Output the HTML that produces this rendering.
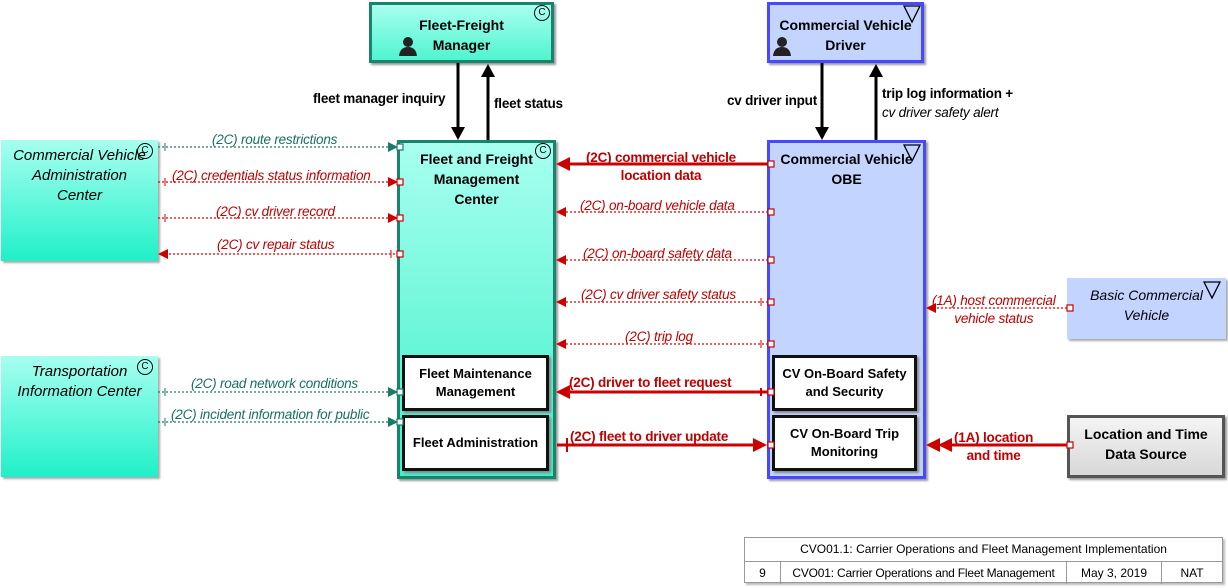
<!DOCTYPE html>
<html><head><meta charset="utf-8"><style>
body{margin:0;width:1228px;height:588px;background:#fff;position:relative;overflow:hidden;font-family:"Liberation Sans",sans-serif;}
.b{position:absolute;box-sizing:border-box;text-align:center;}
.t{position:absolute;font-size:13.5px;white-space:nowrap;letter-spacing:-0.2px}
.t.bold{font-size:13.5px}
.r{color:#c00000}.g{color:#1a6e62}.i{font-style:italic}
.bold{font-weight:bold}
.sub{position:absolute;box-sizing:border-box;background:#fff;border:3px solid #111;font-weight:bold;font-size:13px;display:flex;align-items:center;justify-content:center;text-align:center;line-height:18px;box-shadow:2px 2px 2px #888}
.cc{position:absolute;width:14px;height:14px;border:1.5px solid #000;border-radius:50%;font-size:10px;line-height:14px;text-align:center;box-sizing:content-box}
</style></head><body>

<div class="b bold" style="left:369px;top:2px;width:185px;height:61px;border:3px solid #17846b;background:linear-gradient(#a8fff0,#50f5d0);font-size:14px;line-height:20px;padding-top:10px;box-shadow:2px 2px 2px #999">Fleet-Freight<br>Manager</div>
<div class="cc" style="left:534px;top:5px">C</div>
<div class="b bold" style="left:767px;top:2px;width:157px;height:61px;border:3px solid #4848ff;background:#c2d4ff;font-size:14px;line-height:20px;padding-top:10px;box-shadow:2px 2px 2px #999">Commercial Vehicle<br>Driver</div>

<div class="b bold" style="left:397px;top:140px;width:159px;height:339px;border:3px solid #17846b;background:linear-gradient(#a8fff0,#40f0c8);font-size:14px;line-height:20px;padding-top:6px;box-shadow:2px 2px 2px #999">Fleet and Freight<br>Management<br>Center</div>
<div class="cc" style="left:535px;top:143px">C</div>
<div class="b bold" style="left:767px;top:140px;width:159px;height:339px;border:3px solid #4848ff;background:#c2d4ff;font-size:14px;line-height:20px;padding-top:6px;box-shadow:2px 2px 2px #999">Commercial Vehicle<br>OBE</div>

<div class="b i" style="left:1px;top:140px;width:157px;height:121px;background:linear-gradient(#a8fff0,#20f0c8);font-size:15px;line-height:20px;padding-top:6px;box-shadow:2px 2px 2px #aaa">Commercial Vehicle<br>Administration<br>Center</div>
<div class="cc" style="left:137px;top:143px">C</div>
<div class="b i" style="left:1px;top:356px;width:157px;height:121px;background:linear-gradient(#a8fff0,#20f0c8);font-size:15px;line-height:20px;padding-top:6px;box-shadow:2px 2px 2px #aaa">Transportation<br>Information Center</div>
<div class="cc" style="left:137px;top:359px">C</div>

<div class="b i" style="left:1067px;top:278px;width:159px;height:61px;background:#c2d4ff;font-size:14px;line-height:20px;padding-top:7px;box-shadow:2px 2px 2px #aaa">Basic Commercial<br>Vehicle</div>
<div class="b bold" style="left:1067px;top:415px;width:158px;height:63px;border:3px solid #555;background:linear-gradient(#f4f4f4,#d8d8d8);font-size:14px;line-height:20px;padding-top:6px;box-shadow:2px 2px 2px #999">Location and Time<br>Data Source</div>

<div class="sub" style="left:402px;top:355px;width:147px;height:56px">Fleet Maintenance<br>Management</div>
<div class="sub" style="left:402px;top:415px;width:147px;height:56px">Fleet Administration</div>
<div class="sub" style="left:772px;top:355px;width:145px;height:56px">CV On-Board Safety<br>and Security</div>
<div class="sub" style="left:772px;top:415px;width:145px;height:56px">CV On-Board Trip<br>Monitoring</div>

<svg width="1228" height="588" style="position:absolute;left:0;top:0" xmlns="http://www.w3.org/2000/svg">
<g fill="none" stroke="#000" stroke-width="1.3">
<path d="M904,6L920,6L912,22z"/>
<path d="M904,145L920,145L912,161z"/>
<path d="M1204,282L1220,282L1212,298z"/>
</g>
<g fill="#222"><circle cx="408" cy="42" r="5"/><path d="M399,56Q400,47 408,47Q416,47 417,56z"/>
<circle cx="782" cy="42" r="5"/><path d="M773,56Q774,47 782,47Q790,47 791,56z"/></g>
<g stroke="#000" stroke-width="3">
<line x1="458" y1="63" x2="458" y2="128"/><line x1="488" y1="76" x2="488" y2="140"/>
<line x1="822" y1="63" x2="822" y2="128"/><line x1="876" y1="76" x2="876" y2="140"/>
</g>
<g fill="#000"><path d="M451,127L465,127L458,140z"/><path d="M481,77L495,77L488,64z"/>
<path d="M815,127L829,127L822,140z"/><path d="M869,77L883,77L876,64z"/></g>
<g stroke="#1a7a6a" stroke-width="1.2" stroke-dasharray="2,2" fill="none">
<line x1="158" y1="147" x2="390" y2="147"/><line x1="158" y1="392" x2="390" y2="392"/><line x1="158" y1="422" x2="390" y2="422"/>
</g>
<g fill="#1a7a6a"><path d="M388,142L398,147L388,152z"/><path d="M388,387L398,392L388,397z"/><path d="M388,417L398,422L388,427z"/></g>
<g stroke="#1a7a6a" stroke-width="1"><line x1="165" y1="143" x2="165" y2="151"/><line x1="165" y1="388" x2="165" y2="396"/><line x1="165" y1="418" x2="165" y2="426"/></g>
<g stroke="#d00" stroke-width="1.2" stroke-dasharray="2,2" fill="none">
<line x1="158" y1="182" x2="390" y2="182"/><line x1="158" y1="218" x2="390" y2="218"/><line x1="165" y1="254" x2="397" y2="254"/>
<line x1="562" y1="212" x2="767" y2="212"/><line x1="562" y1="260" x2="767" y2="260"/><line x1="562" y1="302" x2="767" y2="302"/><line x1="562" y1="344" x2="767" y2="344"/>
<line x1="933" y1="308" x2="1067" y2="308"/>
</g>
<g fill="#c00">
<path d="M388,177L398,182L388,187z"/><path d="M388,213L398,218L388,223z"/><path d="M168,249L158,254L168,259z"/>
<path d="M566,207L556,212L566,217z"/><path d="M566,255L556,260L566,265z"/><path d="M566,297L556,302L566,307z"/><path d="M566,339L556,344L566,349z"/>
<path d="M936,303L926,308L936,313z"/>
</g>
<g stroke="#d00" stroke-width="1"><line x1="165" y1="178" x2="165" y2="186"/><line x1="165" y1="214" x2="165" y2="222"/><line x1="391" y1="250" x2="391" y2="258"/>
<line x1="761" y1="298" x2="761" y2="306"/><line x1="761" y1="340" x2="761" y2="348"/></g>
<g stroke="#c00" stroke-width="3">
<line x1="568" y1="164" x2="770" y2="164"/><line x1="568" y1="392" x2="770" y2="392"/><line x1="557" y1="445" x2="756" y2="445"/>
<line x1="950" y1="445" x2="1067" y2="445"/>
</g>
<g fill="#c00">
<path d="M570,157L556,164L570,171z"/><path d="M570,385L556,392L570,399z"/><path d="M753,438L767,445L753,452z"/>
<path d="M940,438L926,445L940,452z"/><path d="M952,438L938,445L952,452z"/>
</g>
<g stroke="#c00" stroke-width="2"><line x1="567" y1="438" x2="567" y2="452"/><line x1="761" y1="388" x2="761" y2="396"/></g>
<g fill="#fff" stroke-width="1.2">
<rect x="397" y="144" width="6" height="6" stroke="#1a7a6a"/><rect x="397" y="389" width="6" height="6" stroke="#1a7a6a"/><rect x="397" y="419" width="6" height="6" stroke="#1a7a6a"/>
<g stroke="#c00"><rect x="397" y="179" width="6" height="6"/><rect x="397" y="215" width="6" height="6"/><rect x="397" y="251" width="6" height="6"/>
<rect x="768" y="161" width="6" height="6"/><rect x="768" y="209" width="6" height="6"/><rect x="768" y="257" width="6" height="6"/><rect x="768" y="299" width="6" height="6"/><rect x="768" y="341" width="6" height="6"/><rect x="768" y="389" width="6" height="6"/><rect x="768" y="442" width="6" height="6"/>
<rect x="1067" y="305" width="6" height="6"/><rect x="1067" y="442" width="6" height="6"/></g>
</g>
</svg>

<div class="t bold" style="left:313px;top:91px">fleet manager inquiry</div>
<div class="t bold" style="left:494px;top:96px">fleet status</div>
<div class="t bold" style="left:727px;top:93px">cv driver input</div>
<div class="t" style="left:882px;top:84px;line-height:19px"><b>trip log information +</b><br><i>cv driver safety alert</i></div>

<div class="t g i" style="left:212px;top:132px">(2C) route restrictions</div>
<div class="t r i" style="left:172px;top:168px">(2C) credentials status information</div>
<div class="t r i" style="left:216px;top:204px">(2C) cv driver record</div>
<div class="t r i" style="left:217px;top:237px">(2C) cv repair status</div>
<div class="t g i" style="left:191px;top:376px">(2C) road network conditions</div>
<div class="t g i" style="left:171px;top:407px">(2C) incident information for public</div>

<div class="t r bold" style="left:586px;top:149px;text-align:center;line-height:18px">(2C) commercial vehicle<br>location data</div>
<div class="t r i" style="left:580px;top:198px">(2C) on-board vehicle data</div>
<div class="t r i" style="left:583px;top:246px">(2C) on-board safety data</div>
<div class="t r i" style="left:581px;top:287px">(2C) cv driver safety status</div>
<div class="t r i" style="left:625px;top:329px">(2C) trip log</div>
<div class="t r bold" style="left:569px;top:375px">(2C) driver to fleet request</div>
<div class="t r bold" style="left:570px;top:429px">(2C) fleet to driver update</div>
<div class="t r i" style="left:932px;top:292px;text-align:center;line-height:18px">(1A) host commercial<br>vehicle status</div>
<div class="t r bold" style="left:954px;top:429px;text-align:center;line-height:18px">(1A) location<br>and time</div>

<div style="position:absolute;left:744px;top:537px;width:479px;height:46px;border:1px solid #999;box-sizing:border-box;font-size:12px;box-shadow:2px 2px 2px #bbb">
<div style="height:23px;line-height:23px;text-align:center;border-bottom:1px solid #999">CVO01.1: Carrier Operations and Fleet Management Implementation</div>
<div style="display:flex;height:22px;line-height:22px">
<div style="width:35px;text-align:center;border-right:1px solid #999">9</div>
<div style="width:285px;text-align:center;border-right:1px solid #999;white-space:nowrap;letter-spacing:-0.2px">CVO01: Carrier Operations and Fleet Management</div>
<div style="width:94px;text-align:center;border-right:1px solid #999">May 3, 2019</div>
<div style="flex:1;text-align:center">NAT</div>
</div></div>
</body></html>
